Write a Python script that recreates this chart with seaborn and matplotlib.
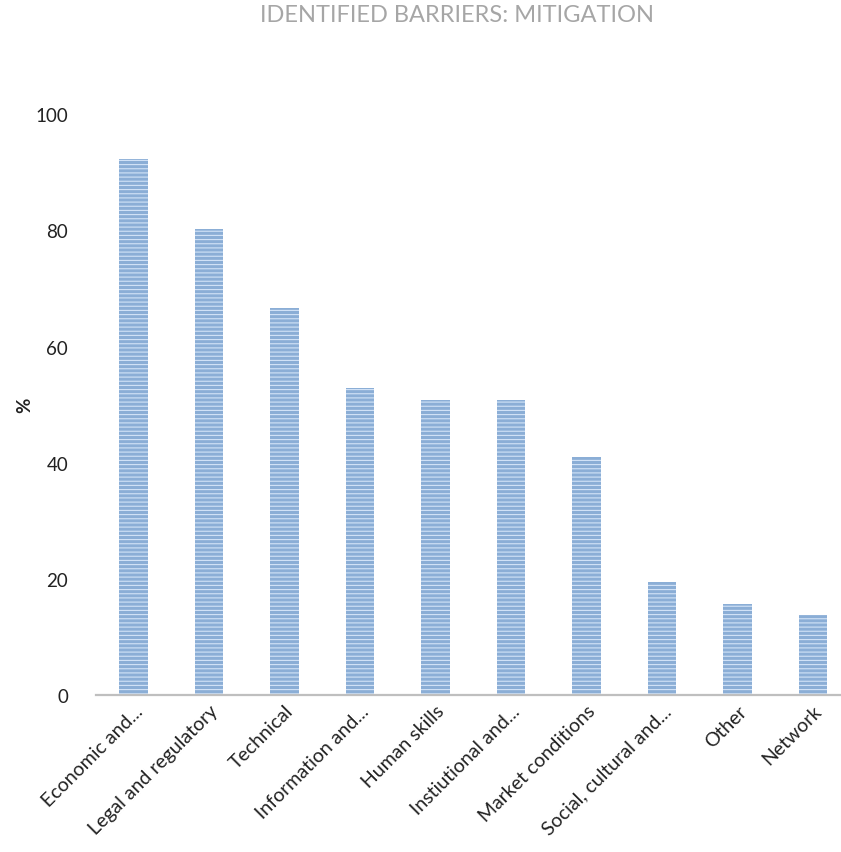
import numpy as np
import pandas as pd
import seaborn as sns
import matplotlib.pyplot as plt

categories = ["Economic and...", "Legal and regulatory", "Technical", "Information and...",
              "Human skills", "Instiutional and...", "Market conditions",
              "Social, cultural and...", "Other", "Network"]
values = [92.3, 80.3, 66.6, 52.8, 50.8, 50.8, 41.0, 19.5, 15.7, 13.7]
yticks = [0, 20, 40, 60, 80, 100]

df = pd.DataFrame({"Barrier": categories, "Percent": values})

sns.set_style("white")
plt.rcParams['font.family'] = ['Lato', 'DejaVu Sans']
plt.rcParams['hatch.linewidth'] = 0.8

fig = plt.figure(figsize=(8.41, 8.53), dpi=100)
ax = fig.add_axes([0.114, 0.184, 0.886, 0.681])

ax = sns.barplot(x="Barrier", y="Percent", data=df, ax=ax, color="#7EADE3",
                 width=0.38, edgecolor="#D2E3F7", linewidth=0, hatch="----")

ax.set_ylim(0, 100)
ax.set_xlim(-0.5, 9.37)
ax.set_yticks(yticks)
ax.set_yticklabels([str(t) for t in yticks], fontsize=13.5, color="#222222")
ax.tick_params(axis="y", length=0, pad=20)
ax.tick_params(axis="x", length=0, pad=5)
plt.setp(ax.get_xticklabels(), rotation=45, ha="right", rotation_mode="anchor",
         fontsize=14, color="#222222")

for side in ["left", "right", "top"]:
    ax.spines[side].set_visible(False)
ax.spines["bottom"].set_color("#BFBFBF")
ax.spines["bottom"].set_linewidth(1.6)

ax.set_xlabel("")
ax.set_ylabel("")
fig.text(0.03, 0.525, "%", rotation=90, fontsize=13.5, fontweight="bold",
         color="#222222", ha="center", va="center")
fig.text(0.543, 0.982, "IDENTIFIED BARRIERS: MITIGATION", fontsize=17,
         color="#A6A6A6", ha="center", va="center")

plt.savefig("out.png", dpi=100)
